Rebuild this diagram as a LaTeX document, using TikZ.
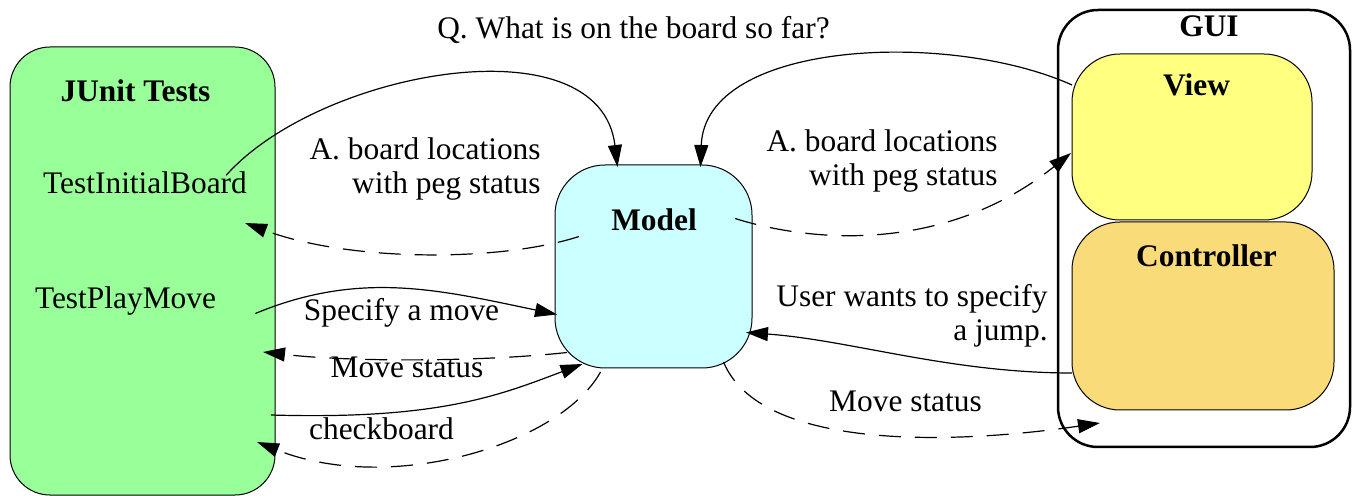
\documentclass[tikz,border=0pt]{standalone}
\usepackage{fontspec}
\setmainfont{Liberation Serif}
\usetikzlibrary{arrows.meta,calc}

\definecolor{testgreen}{HTML}{99FF99}
\definecolor{modelcyan}{HTML}{CCFFFF}
\definecolor{viewyellow}{HTML}{FFFF80}
\definecolor{ctrlorange}{HTML}{FADB7A}

\begin{document}
\begin{tikzpicture}[
    x=0.5pt, y=-0.5pt,
    font=\fontsize{15.7}{17}\selectfont,
    box/.style={rectangle, draw, inner sep=0pt, outer sep=0pt, line width=0.5pt},
    title/.style={anchor=base, inner sep=0pt, font=\fontsize{15.7}{17}\selectfont\bfseries},
    lbl/.style={anchor=base, inner sep=0pt},
    note/.style={anchor=east, inner sep=0pt, align=right},
    msg/.style={-{Triangle[length=11pt,width=7pt]}, line width=0.6pt},
    reply/.style={msg, dash pattern=on 11pt off 7pt}
]
\useasboundingbox (0,0) rectangle (1360,496);

% components
\node[box, fill=testgreen, rounded corners=20pt, minimum width=132.5pt, minimum height=224pt] (junit) at (142.5,271) {};
\node[box, fill=modelcyan, rounded corners=25pt, minimum width=98.5pt, minimum height=101.5pt] (model) at (653.5,266.5) {};
\node[box, line width=1.25pt, rounded corners=20pt, minimum width=146pt, minimum height=218.5pt] (gui) at (1204,228.5) {};
\node[box, fill=viewyellow, rounded corners=24pt, minimum width=120pt, minimum height=83pt] (view) at (1192,137) {};
\node[box, fill=ctrlorange, rounded corners=24pt, minimum width=131pt, minimum height=94pt] (ctrl) at (1203,316) {};

% titles and test names
\node[title] (junittitle) at (135.5,102) {JUnit Tests};
\node[title] (modeltitle) at (654,231) {Model};
\node[title] (guititle) at (1209,37) {GUI};
\node[title] (viewtitle) at (1196.5,96) {View};
\node[title] (ctrltitle) at (1206.5,267) {Controller};
\node[lbl] (ib) at (145,194) {TestInitialBoard};
\node[lbl] (pm) at (125.5,309) {TestPlayMove};

% messages
\node[lbl] (q) at (633.5,39) {Q. What is on the board so far?};
\node[note] (ansl) at (541,169) {A. board locations\\with peg status};
\node[note] (ansr) at (998,161) {A. board locations\\with peg status};
\node[lbl] (spec) at (401.5,321) {Specify a move};
\node[lbl] (statl) at (407,378) {Move status};
\node[lbl] (chk) at (381.5,440) {checkboard};
\node[note] (user) at (1048,316) {User wants to specify\\a jump.};
\node[lbl] (statr) at (905.5,412) {Move status};

% connectors
\draw[msg] ($(ib.east)+(-21,-8)$) .. controls (320,70) and (600,20) .. ($(model.north)+(-36,2)$);
\draw[msg] ($(view.west)+(0,-52)$) .. controls (950,30) and (705,40) .. ($(model.north)+(47,2)$);
\draw[reply] ($(model.west)+(24,-30)$) .. controls (500,262) and (350,262) .. ($(junit.east)+(-30,-48)$);
\draw[reply] ($(model.east)+(-17,-48)$) .. controls (820,245) and (950,250) .. ($(view.west)+(-1,16)$);
\draw[msg] ($(pm.east)+(39,12)$) .. controls (360,270) and (440,290) .. ($(model.west)+(2,48)$);
\draw[reply] ($(model.west)+(12,86)$) .. controls (480,362) and (350,362) .. ($(junit.east)+(-12,81)$);
\draw[msg] ($(junit.east)+(-4,144)$) .. controls (440,420) and (500,395) .. ($(model.south)+(-71,-4)$);
\draw[reply] ($(model.south)+(-53,4)$) .. controls (560,445) and (390,495) .. ($(junit.east)+(-18,171)$);
\draw[msg] ($(ctrl.west)+(0,57)$) .. controls (950,373) and (850,340) .. ($(model.east)+(-6,66)$);
\draw[reply] ($(model.south)+(70,-6)$) .. controls (760,450) and (950,445) .. ($(gui.south)+(-104,-24)$);
\end{tikzpicture}
\end{document}
